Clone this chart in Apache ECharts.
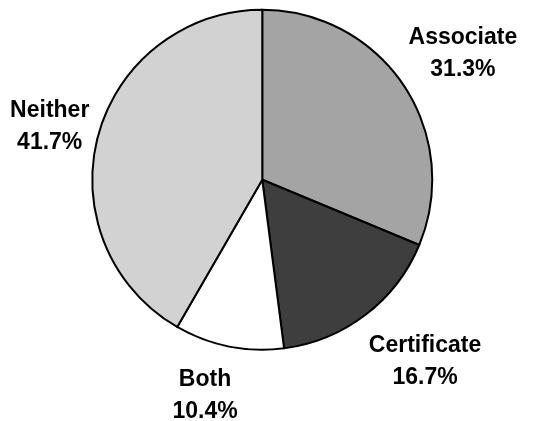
<!DOCTYPE html>
<html>
<head>
<meta charset="utf-8">
<script src="https://cdn.jsdelivr.net/npm/echarts@6/dist/echarts.min.js"></script>
<style>
  html, body { margin: 0; padding: 0; background: #fff; }
  #chart { width: 543px; height: 421px; }
</style>
</head>
<body>
<div id="chart"></div>
<script>
// categories and shares (percent), clockwise from 12 o'clock
var categories = ['Associate', 'Certificate', 'Both', 'Neither'];
var shares = [31.3, 16.7, 10.4, 41.7];
var fills = ['#a4a4a4', '#3e3e3e', '#ffffff', '#d2d2d2'];
var labelGaps = [64, 70, 50, 48];
// small hand nudges so the labels sit where the original put them
var labelNudgeX = [1, 12, -9, 3];
var labelNudgeY = [4, -9, 0, 3];

var myChart = echarts.init(document.getElementById('chart'));
var option = {
    animation: false,
    series: [{
        type: 'pie',
        center: ['48.3%', '42.7%'],
        radius: 170,
        startAngle: 90,
        clockwise: true,
        avoidLabelOverlap: false,
        itemStyle: {
            borderColor: '#000',
            borderWidth: 2
        },
        label: {
            show: true,
            position: 'outside',
            formatter: function (p) {
                return p.name + '\n' + p.value.toFixed(1) + '%';
            },
            fontFamily: 'Liberation Sans, Arial, sans-serif',
            fontWeight: 'bold',
            fontSize: 23,
            lineHeight: 32,
            color: '#000'
        },
        labelLine: {
            show: false,
            length2: 0
        },
        labelLayout: function (params) {
            var i = params.dataIndex;
            return {
                align: 'center',
                verticalAlign: 'middle',
                dx: labelNudgeX[i],
                dy: labelNudgeY[i]
            };
        },
        emphasis: { disabled: true },
        data: categories.map(function (c, i) {
            return {
                name: c,
                value: shares[i],
                itemStyle: { color: fills[i] },
                labelLine: { length: labelGaps[i] }
            };
        })
    }]
};
myChart.setOption(option);
</script>
</body>
</html>
